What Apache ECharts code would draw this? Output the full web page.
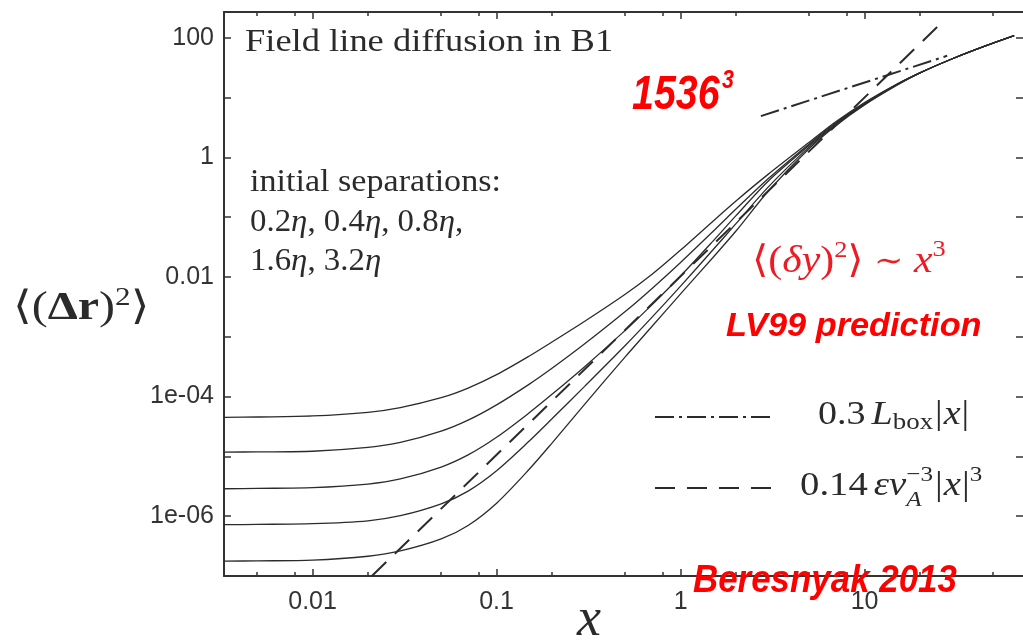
<!DOCTYPE html>
<html><head><meta charset="utf-8">
<script src="https://cdn.jsdelivr.net/npm/echarts@6/dist/echarts.min.js"></script>
<style>html,body{margin:0;padding:0;background:#fff}#c{width:1023px;height:641px}</style>
</head><body><div id="c"></div>
<script>
// ---- data ----
const X = [0.0033, 0.005, 0.01, 0.02, 0.03, 0.05, 0.07, 0.1, 0.15, 0.2, 0.3, 0.5, 0.7, 1, 1.5, 2, 3, 5, 7, 10, 15, 20, 30, 45, 65];
const SEP_3_2 = [4.49e-5, 4.56e-5, 4.75e-5, 5.46e-5, 6.55e-5, 9.59e-5, 1.39e-4, 2.33e-4, 4.74e-4, 8.18e-4, 1.80e-3, 5.14e-3, 1.11e-2, 2.82e-2, 8.59e-2, 0.187, 0.525, 1.79, 3.98, 8.28, 16.9, 26.0, 44.6, 72.4, 108.6];
const SEP_1_6 = [1.18e-5, 1.19e-5, 1.22e-5, 1.41e-5, 1.71e-5, 2.64e-5, 4.03e-5, 7.26e-5, 1.60e-4, 2.97e-4, 7.55e-4, 2.64e-3, 6.44e-3, 1.75e-2, 5.78e-2, 0.137, 0.444, 1.68, 3.83, 8.04, 16.7, 25.9, 44.6, 72.4, 108.6];
const SEP_0_8 = [2.88e-6, 2.92e-6, 3.00e-6, 3.44e-6, 4.19e-6, 6.64e-6, 1.06e-5, 2.09e-5, 5.32e-5, 1.09e-4, 3.13e-4, 1.28e-3, 3.45e-3, 1.04e-2, 3.98e-2, 0.106, 0.404, 1.59, 3.69, 7.85, 16.5, 25.9, 44.6, 72.4, 108.6];
const SEP_0_4 = [7.21e-7, 7.29e-7, 7.50e-7, 8.38e-7, 1.02e-6, 1.61e-6, 2.63e-6, 5.77e-6, 1.79e-5, 4.26e-5, 1.47e-4, 7.14e-4, 2.13e-3, 7.05e-3, 2.85e-2, 7.80e-2, 0.322, 1.50, 3.56, 7.73, 16.4, 25.9, 44.6, 72.4, 108.6];
const SEP_0_2 = [1.77e-7, 1.79e-7, 1.84e-7, 2.14e-7, 2.62e-7, 4.16e-7, 7.00e-7, 1.65e-6, 6.03e-6, 1.67e-5, 7.35e-5, 4.62e-4, 1.50e-3, 5.22e-3, 2.12e-2, 5.87e-2, 0.274, 1.41, 3.43, 7.55, 16.1, 25.9, 44.6, 72.4, 108.6];
const CUBIC_X = [0.021, 26.5];      // 0.14 eps vA^-3 |x|^3
const CUBIC_Y = [1.0e-7, 185];
const LIN_X = [2.73, 28.1];         // 0.3 Lbox |x|
const LIN_Y = [4.9, 50];
const X_LABEL_VALUES = [0.01, 0.1, 1, 10];
const X_LABELS = ['0.01', '0.1', '1', '10'];
const X_MAJOR_TICKS = [0.01, 0.1, 1, 10];
const X_MINOR_TICKS = [0.005, 0.008, 0.02, 0.05, 0.08, 0.2, 0.5, 0.8, 2, 5, 8, 20, 50];
const Y_LABEL_VALUES = [1e-6, 1e-4, 0.01, 1, 100];
const Y_LABELS = ['1e-06', '1e-04', '0.01', '1', '100'];
const Y_TICKS = [1e-6, 1e-5, 1e-4, 1e-3, 0.01, 0.1, 1, 10, 100];
const X_MIN = 0.0033, X_MAX = 72.6, Y_MIN = 1e-7, Y_MAX = 270;

// ---- helpers ----
const zip = (xs, ys) => xs.map((x, i) => [x, ys[i]]);
const lab = (vals, labels) => v => {
  for (let i = 0; i < vals.length; i++) if (Math.abs(Math.log10(v) - Math.log10(vals[i])) < 1e-6) return labels[i];
  return '';
};
const INK = '#2b2b2b';
const SERIF = "'Liberation Serif', 'DejaVu Serif', serif";
const SANS = "'Liberation Sans', Arial, sans-serif";

function xAx(pos, ticks, len, showLine, showLabel) {
  return {
    type: 'log', logBase: 10, gridIndex: 0, position: pos, min: X_MIN, max: X_MAX,
    axisLine: { show: showLine, onZero: false, lineStyle: { color: '#333', width: 2 } },
    axisTick: { show: true, inside: true, length: len, customValues: ticks, lineStyle: { color: '#333', width: 1.5 } },
    axisLabel: { show: showLabel, customValues: X_LABEL_VALUES, formatter: lab(X_LABEL_VALUES, X_LABELS),
      fontFamily: SANS, fontSize: 25, color: '#333', margin: 14 },
    splitLine: { show: false }, minorTick: { show: false }
  };
}
function yAx(pos, showLabel, showLine) {
  return {
    type: 'log', logBase: 10, gridIndex: 0, position: pos, min: Y_MIN, max: Y_MAX,
    axisLine: { show: showLine, onZero: false, lineStyle: { color: '#333', width: 2 } },
    axisTick: { show: true, inside: true, length: 7, customValues: Y_TICKS, lineStyle: { color: '#333', width: 1.5 } },
    axisLabel: { show: showLabel, customValues: Y_LABEL_VALUES, formatter: lab(Y_LABEL_VALUES, Y_LABELS),
      fontFamily: SANS, fontSize: 25, color: '#333', margin: 10 },
    splitLine: { show: false }, minorTick: { show: false }
  };
}

const cv = document.createElement('canvas').getContext('2d');
function measure(p) {
  cv.font = `${p.style || 'normal'} ${p.weight || 'normal'} ${p.size}px ${p.family}`;
  return cv.measureText(p.t).width;
}
function seq(x0, base, sx, pieces, fill, defs) {
  let x = x0; const out = [];
  for (const q of pieces) {
    const p = Object.assign({}, defs, q);
    const w = measure(p) * sx;
    const px = x + (p.dx || 0);
    out.push({ type: 'text', z: 100, silent: true, x: px, y: base + (p.dy || 0) - 0.34 * p.size, scaleX: sx,
      style: { text: p.t, x: 0, y: 0, fill: p.fill || fill, fontSize: p.size, fontFamily: p.family,
        fontStyle: p.style || 'normal', fontWeight: p.weight || 'normal', align: 'left', verticalAlign: 'middle' } });
    if (!p.noAdvance) x = px + w;
  }
  return out;
}
const S = { family: SERIF, size: 32 };
const RB = { family: SANS, weight: 'bold', style: 'italic' };
const graphics = [].concat(
  seq(245, 53, 1.14, [{ t: 'Field line diffusion in B1' }], INK, S),
  seq(250, 193, 1.1, [{ t: 'initial separations:' }], INK, { family: SERIF, size: 31 }),
  seq(250, 233, 1.06, [{ t: '0.2' }, { t: 'η', style: 'italic' }, { t: ', 0.4' }, { t: 'η', style: 'italic' }, { t: ', 0.8' }, { t: 'η', style: 'italic' }, { t: ',' }], INK, { family: SERIF, size: 31 }),
  seq(250, 272, 1.06, [{ t: '1.6' }, { t: 'η', style: 'italic' }, { t: ', 3.2' }, { t: 'η', style: 'italic' }], INK, { family: SERIF, size: 31 }),
  seq(632, 112, 0.82, [{ t: '1536', size: 48 }], '#ff0000', RB),
  seq(722, 90, 0.82, [{ t: '3', size: 26 }], '#ff0000', RB),
  seq(752, 275, 1.1, [{ t: '⟨(' }, { t: 'δy', style: 'italic' }, { t: ')' }, { t: '2', size: 24, dy: -16 }, { t: '⟩ ' }, { t: '∼', size: 32, dy: -2 }, { t: ' ' }, { t: 'x', style: 'italic' }, { t: '3', size: 24, dy: -17 }], '#ec1c24', { family: SERIF, size: 38 }),
  seq(726, 338, 1.04, [{ t: 'LV99 prediction', size: 33 }], '#ff0000', RB),
  seq(818, 427, 1.12, [{ t: '0.3' }, { t: 'L', style: 'italic', dx: 6 }, { t: 'box', size: 24, dy: 4 }, { t: '|', dx: 2 }, { t: 'x', style: 'italic', dx: 1 }, { t: '|', dx: 1 }], INK, { family: SERIF, size: 34 }),
  seq(800, 498, 1.14, [{ t: '0.14' }, { t: 'εv', style: 'italic', dx: 6 }, { t: 'A', size: 22, style: 'italic', dy: 10, noAdvance: true }, { t: '−3', size: 22, dy: -15 }, { t: '|', dx: 2 }, { t: 'x', style: 'italic', dx: 1 }, { t: '|', dx: 1 }, { t: '3', size: 22, dy: -15 }], INK, { family: SERIF, size: 34 }),
  seq(13, 322, 1.2, [{ t: '⟨(' }, { t: 'Δr', weight: 'bold' }, { t: ')' }, { t: '2', size: 26, dy: -15 }, { t: '⟩' }], INK, { family: SERIF, size: 40 }),
  seq(577, 639, 1.0, [{ t: 'x', style: 'italic' }], INK, { family: SERIF, size: 54 }),
  seq(693, 595, 0.895, [{ t: 'Beresnyak 2013', size: 39 }], '#ff0000', RB),
  [
    { type: 'line', z: 90, silent: true, shape: { x1: 655, y1: 417, x2: 772, y2: 417 }, style: { stroke: INK, lineWidth: 2, lineDash: [19, 5, 3, 5] } },
    { type: 'line', z: 90, silent: true, shape: { x1: 655, y1: 488, x2: 772, y2: 488 }, style: { stroke: INK, lineWidth: 2, lineDash: [20, 12] } }
  ]
);

const curve = (name, ys) => ({ name, type: 'line', data: zip(X, ys), showSymbol: false, symbol: 'none',
  smooth: 0.3, lineStyle: { color: INK, width: 1.3 }, z: 2 });

const chart = echarts.init(document.getElementById('c'), null, { renderer: 'canvas' });
chart.setOption({
  animation: false,
  backgroundColor: '#fff',
  grid: { left: 224, right: -3, top: 12, bottom: 65, containLabel: false },
  xAxis: [
    xAx('bottom', X_MAJOR_TICKS, 7, true, true),
    xAx('bottom', X_MINOR_TICKS, 4, false, false),
    xAx('top', X_MAJOR_TICKS, 7, true, false),
    xAx('top', X_MINOR_TICKS, 4, false, false)
  ],
  yAxis: [yAx('left', true, true), yAx('right', false, false)],
  series: [
    curve('3.2η', SEP_3_2), curve('1.6η', SEP_1_6), curve('0.8η', SEP_0_8), curve('0.4η', SEP_0_4), curve('0.2η', SEP_0_2),
    { name: 'cubic', type: 'line', data: zip(CUBIC_X, CUBIC_Y), symbol: 'none', z: 3,
      lineStyle: { color: INK, width: 2, type: [20, 12] } },
    { name: 'linear', type: 'line', data: zip(LIN_X, LIN_Y), symbol: 'none', z: 3,
      lineStyle: { color: INK, width: 2, type: [19, 5, 3, 5] } }
  ],
  graphic: { elements: graphics }
});
</script></body></html>
